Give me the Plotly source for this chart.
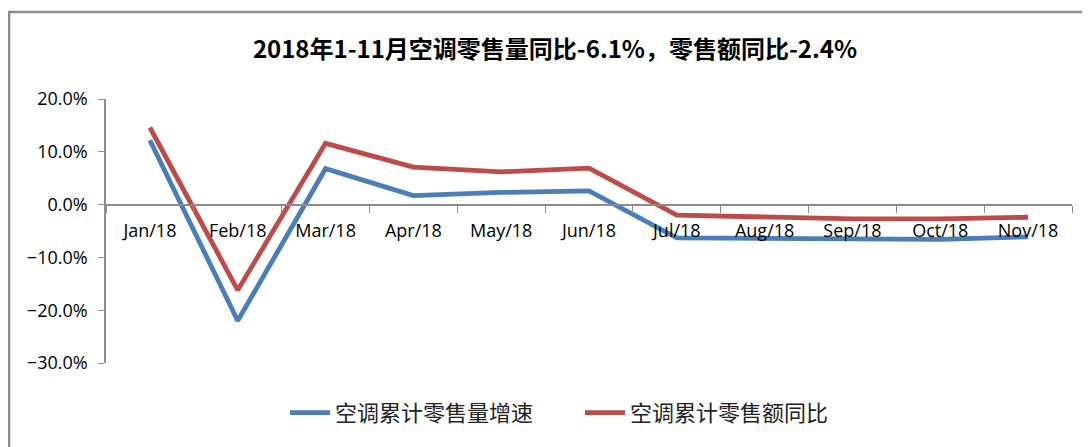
import plotly.graph_objects as go

# monthly categories and cumulative growth rates (fractions)
months = ["Jan/18", "Feb/18", "Mar/18", "Apr/18", "May/18", "Jun/18",
          "Jul/18", "Aug/18", "Sep/18", "Oct/18", "Nov/18"]
volume_growth = [0.122, -0.220, 0.068, 0.017, 0.023, 0.026,
                 -0.063, -0.064, -0.066, -0.066, -0.061]
amount_growth = [0.146, -0.162, 0.116, 0.071, 0.062, 0.069,
                 -0.020, -0.023, -0.027, -0.027, -0.024]
volume_name = "空调累计零售量增速"
amount_name = "空调累计零售额同比"
title_text = "2018年1-11月空调零售量同比-6.1%，零售额同比-2.4%"

BLUE = "#4A7EBB"
RED = "#BE4B48"
AXIS_GREY = "#8C8C8C"

fig = go.Figure()
fig.add_trace(go.Scatter(x=months, y=volume_growth, name=volume_name, mode="lines",
                         line=dict(color=BLUE, width=4.8)))
fig.add_trace(go.Scatter(x=months, y=amount_growth, name=amount_name, mode="lines",
                         line=dict(color=RED, width=4.8)))

# page has an 8px body margin, so the figure is laid out 8px up/left of the reference
# plot area (figure px): x 98..1064, y 91..355
zero_pos = 1 - (205 - 99) / 264

fig.update_layout(
    width=1090, height=447,
    margin=dict(l=98, r=26, t=91, b=92, autoexpand=False),
    paper_bgcolor="white", plot_bgcolor="white",
    title=dict(text="<b>" + title_text + "</b>", x=547 / 1090, xanchor="center",
               y=1 - 42 / 447, yanchor="middle",
               font=dict(family="Noto Sans CJK SC", size=24, color="black")),
    font=dict(family="Open Sans, Liberation Sans, sans-serif", size=18, color="black"),
    showlegend=True,
    legend=dict(orientation="h", x=(277 - 98) / 966, xanchor="left", y=-0.189,
                yanchor="middle", entrywidth=240,
                font=dict(family="Noto Sans CJK SC", size=22, color="#222"),
                itemwidth=40, tracegroupgap=0),
    xaxis=dict(anchor="free", position=zero_pos, range=[-0.5, 10.5], showline=True,
               linecolor=AXIS_GREY, linewidth=1.5, ticks="outside", tickson="boundaries",
               ticklen=7, tickcolor=AXIS_GREY, showgrid=False, zeroline=False,
               ticklabelstandoff=10,
               tickfont=dict(family="Open Sans, sans-serif", size=18)),
    yaxis=dict(range=[-0.30, 0.20], dtick=0.1, tickformat=".1%", showline=True,
               linecolor=AXIS_GREY, linewidth=1.5, ticks="outside", ticklen=6,
               tickcolor=AXIS_GREY, showgrid=False, zeroline=False,
               ticklabelstandoff=7,
               tickfont=dict(family="Open Sans, sans-serif", size=18)),
)

# chart frame (left and top edges visible, runs off right/bottom)
fig.add_shape(type="rect", xref="paper", yref="paper",
              x0=(9 - 106) / 966, x1=1.2, y0=-1.0, y1=1 + (99 - 12) / 264,
              line=dict(color="#8C8C8C", width=2.5), layer="below")

fig.write_html("out.html")
